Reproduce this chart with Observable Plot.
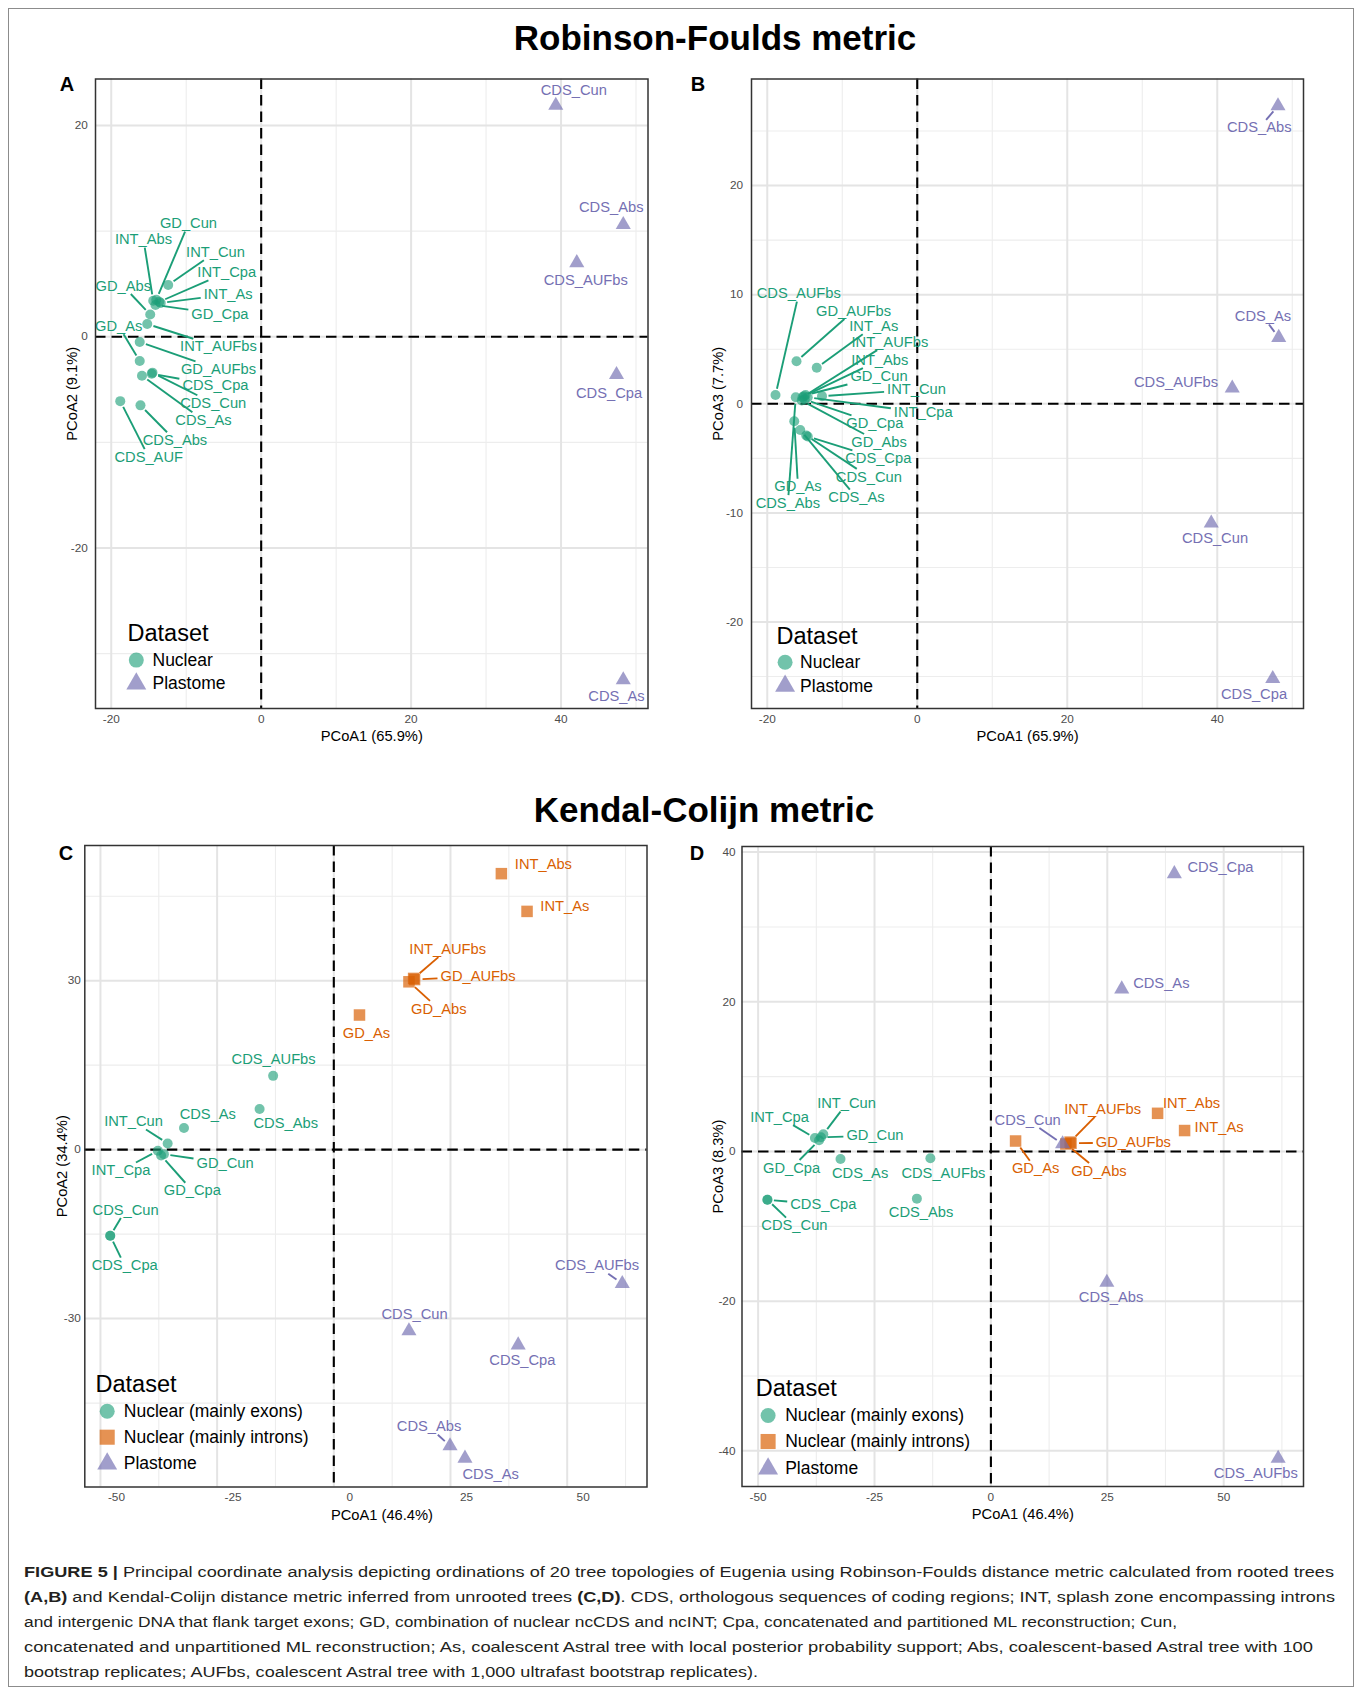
<!DOCTYPE html>
<html><head><meta charset="utf-8">
<script src="https://cdn.jsdelivr.net/npm/d3@7"></script>
<script src="https://cdn.jsdelivr.net/npm/@observablehq/plot@0.6"></script>
<style>
html,body{margin:0;padding:0;background:#fff;}
body{width:1360px;height:1690px;position:relative;overflow:hidden;font-family:"Liberation Sans",Arial,sans-serif;}
#border{position:absolute;left:8px;top:8px;width:1346px;height:1679px;border:1.5px solid #8c8c8c;box-sizing:border-box;}
.title{position:absolute;font-weight:bold;font-size:35px;color:#000;transform:translate(-50%,-50%);white-space:nowrap;}
.letter{position:absolute;font-weight:bold;font-size:20px;color:#000;transform:translate(-50%,-50%);}
.panel{position:absolute;}
.cap{position:absolute;left:24px;white-space:nowrap;font-size:15.5px;color:#231f20;transform-origin:0 50%;line-height:1;}
</style></head><body>
<div id="border"></div>
<div class="title" style="left:715px;top:38px">Robinson-Foulds metric</div>
<div class="title" style="left:704px;top:810px">Kendal-Colijn metric</div>
<div class="letter" style="left:67px;top:84px">A</div>
<div class="letter" style="left:698px;top:84px">B</div>
<div class="letter" style="left:66px;top:853px">C</div>
<div class="letter" style="left:697px;top:853px">D</div>
<div id="pA" class="panel" style="left:40px;top:70px"></div>
<div id="pB" class="panel" style="left:700px;top:70px"></div>
<div id="pC" class="panel" style="left:30px;top:835px"></div>
<div id="pD" class="panel" style="left:690px;top:835px"></div>
<div class="cap" data-w="1310" style="top:1572px"><b>FIGURE 5 |</b> Principal coordinate analysis depicting ordinations of 20 tree topologies of Eugenia using Robinson-Foulds distance metric calculated from rooted trees</div>
<div class="cap" data-w="1311" style="top:1597px"><b>(A,B)</b> and Kendal-Colijn distance metric inferred from unrooted trees <b>(C,D)</b>. CDS, orthologous sequences of coding regions; INT, splash zone encompassing introns</div>
<div class="cap" data-w="1153" style="top:1622px">and intergenic DNA that flank target exons; GD, combination of nuclear ncCDS and ncINT; Cpa, concatenated and partitioned ML reconstruction; Cun,</div>
<div class="cap" data-w="1289" style="top:1647px">concatenated and unpartitioned ML reconstruction; As, coalescent Astral tree with local posterior probability support; Abs, coalescent-based Astral tree with 100</div>
<div class="cap" data-w="734" style="top:1671.5px">bootstrap replicates; AUFbs, coalescent Astral tree with 1,000 ultrafast bootstrap replicates).</div>
<script>
// ---------------- DATA ----------------
// Panel A: Robinson-Foulds, PCoA1 vs PCoA2
const namesA = ["INT_Cun","GD_Cun","INT_Abs","INT_Cpa","INT_As","GD_Cpa","GD_Abs","INT_AUFbs","GD_AUFbs","GD_As","CDS_Cpa","CDS_Cun","CDS_As","CDS_Abs","CDS_AUF","CDS_Cun","CDS_Abs","CDS_AUFbs","CDS_Cpa","CDS_As"];
const groupsA = ["N","N","N","N","N","N","N","N","N","N","N","N","N","N","N","P","P","P","P","P"];
const xA = [-12.4,-14.0,-14.4,-13.6,-13.4,-14.1,-14.8,-15.2,-16.2,-16.2,-14.6,-14.5,-15.9,-16.1,-18.8,39.3,48.3,42.1,47.4,48.3];
const yA = [4.9,3.5,3.4,3.3,3.2,3.0,2.1,1.2,-0.5,-2.3,-3.5,-3.4,-3.7,-6.5,-6.1,21.9,10.6,7.0,-3.6,-32.5];
const labelXA = [-6.1,-9.7,-15.7,-4.6,-4.4,-5.5,-18.4,-5.7,-5.7,-19.0,-6.1,-6.4,-7.7,-11.5,-15.0,41.7,46.7,43.3,46.4,47.4];
const labelYA = [8.0,10.7,9.2,6.1,4.0,2.15,4.8,-0.95,-3.1,1.0,-4.6,-6.3,-7.9,-9.8,-11.4,23.3,12.3,5.3,-5.4,-34.0];

// Panel B: Robinson-Foulds, PCoA1 vs PCoA3
const namesB = ["CDS_AUFbs","GD_AUFbs","INT_As","INT_AUFbs","INT_Abs","GD_Cun","INT_Cun","INT_Cpa","GD_Cpa","GD_Abs","CDS_Cpa","CDS_Cun","CDS_As","GD_As","CDS_Abs","CDS_Abs","CDS_As","CDS_AUFbs","CDS_Cun","CDS_Cpa"];
const groupsB = ["N","N","N","N","N","N","N","N","N","N","N","N","N","N","N","P","P","P","P","P"];
const xB = [-18.9,-16.1,-13.4,-15.3,-15.1,-14.9,-12.7,-14.6,-15.0,-15.4,-14.6,-14.8,-15.6,-16.4,-16.2,48.1,48.2,42.0,39.2,47.4];
const yB = [0.8,3.9,3.3,0.6,0.7,0.8,0.7,0.6,0.4,0.3,-3.0,-2.9,-2.4,-1.6,0.6,27.3,6.07,1.43,-10.95,-25.2];
const labelXB = [-15.8,-8.5,-5.8,-3.65,-5.0,-5.1,-0.1,0.8,-5.65,-5.1,-5.2,-6.45,-8.1,-15.9,-17.25,45.6,46.1,34.5,39.7,44.9];
const labelYB = [10.1,8.5,7.1,5.65,4.0,2.5,1.3,-0.8,-1.8,-3.5,-5.0,-6.7,-8.6,-7.6,-9.1,25.3,8.0,1.96,-12.3,-26.6];

// Panel C: Kendal-Colijn, PCoA1 vs PCoA2
const namesC = ["CDS_AUFbs","CDS_Abs","CDS_As","INT_Cun","INT_Cpa","GD_Cun","GD_Cpa","CDS_Cun","CDS_Cpa","INT_Abs","INT_As","INT_AUFbs","GD_AUFbs","GD_Abs","GD_As","CDS_AUFbs","CDS_Cun","CDS_Cpa","CDS_Abs","CDS_As"];
const groupsC = ["E","E","E","E","E","E","E","E","E","I","I","I","I","I","I","P","P","P","P","P"];
const xC = [-13.0,-15.9,-32.1,-35.6,-37.7,-36.4,-37.0,-47.9,-47.9,35.9,41.4,17.1,17.3,16.1,5.5,61.8,16.1,39.5,24.9,28.1];
const yC = [13.1,7.2,3.85,1.1,-0.2,-0.8,-1.05,-15.3,-15.3,49.0,42.3,30.4,30.2,29.8,23.9,-23.8,-32.2,-34.7,-52.6,-54.8];
const labelXC = [-12.9,-10.3,-27.0,-42.9,-45.6,-23.3,-30.3,-44.6,-44.8,44.9,49.5,24.4,30.9,22.5,7.0,56.4,17.3,40.4,20.4,33.6];
const labelYC = [16.0,4.6,6.2,5.0,-3.7,-2.4,-7.3,-10.7,-20.6,50.6,43.2,35.6,30.8,25.0,20.7,-20.6,-29.2,-37.4,-49.2,-57.6];

// Panel D: Kendal-Colijn, PCoA1 vs PCoA3
const namesD = ["INT_Cun","INT_Cpa","GD_Cun","GD_Cpa","CDS_As","CDS_AUFbs","CDS_Abs","CDS_Cpa","CDS_Cun","INT_Abs","INT_As","INT_AUFbs","GD_AUFbs","GD_Abs","GD_As","CDS_Cpa","CDS_As","CDS_Cun","CDS_Abs","CDS_AUFbs"];
const groupsD = ["E","E","E","E","E","E","E","E","E","I","I","I","I","I","I","P","P","P","P","P"];
const xD = [-36.0,-37.8,-36.5,-36.9,-32.3,-13.0,-15.9,-48.0,-48.0,35.8,41.6,17.0,17.2,16.1,5.3,39.4,28.1,15.4,24.9,61.7];
const yD = [2.3,1.8,1.9,1.5,-1.0,-0.9,-6.3,-6.45,-6.45,5.1,2.8,1.25,1.1,1.0,1.4,37.1,21.7,1.0,-17.5,-41.0];
const labelXD = [-31.0,-45.4,-24.9,-42.8,-28.1,-10.2,-15.0,-36.0,-42.2,43.1,49.0,24.0,30.6,23.2,9.6,49.3,36.6,7.9,25.8,56.9];
const labelYD = [6.4,4.6,2.1,-2.2,-2.85,-2.85,-8.1,-7.1,-9.9,6.5,3.3,5.7,1.2,-2.6,-2.3,38.0,22.5,4.2,-19.5,-43.0];

// Legends and axes
const legendAB = ["Nuclear","Plastome"];
const legendGroupsAB = ["N","P"];
const legendCD = ["Nuclear (mainly exons)","Nuclear (mainly introns)","Plastome"];
const legendGroupsCD = ["E","I","P"];
const ticksRF_x = [-20,0,20,40];
const ticksA_y = [-20,0,20];
const ticksB_y = [-20,-10,0,10,20];
const ticksKC_x = [-50,-25,0,25,50];
const ticksC_y = [-30,0,30];
const ticksD_y = [-40,-20,0,20,40];

// ---------------- STYLE ----------------
const GREEN = "#1b9e77", ORANGE = "#d95f02", PURPLE = "#7570b3";
const STYLE = {
  N: {color: GREEN, symbol: "circle", r: 5, op: 0.62, lr: 7.5},
  E: {color: GREEN, symbol: "circle", r: 5, op: 0.62, lr: 7.5},
  I: {color: ORANGE, symbol: "square", r: 6.5, op: 0.68, lr: 8.5},
  P: {color: PURPLE, symbol: "triangle", r: 5.6, op: 0.68, lr: 7.4}
};
const LABEL_FS = 14.7;
const FONT = "'Liberation Sans', Arial, sans-serif";
const ctx = document.createElement("canvas").getContext("2d");
ctx.font = LABEL_FS + "px 'Liberation Sans'";

function minor(ticks, dom) {
  const step = ticks[1] - ticks[0];
  const out = [];
  for (let v = ticks[0] - step / 2; v <= dom[1]; v += step) if (v >= dom[0]) out.push(v);
  for (let v = ticks[0] - step / 2 - step; v >= dom[0]; v -= step) out.push(v);
  return out;
}

function buildPanel(cfg) {
  const pts = cfg.names.map((n, i) => ({name: n, group: cfg.groups[i], x: cfg.xs[i], y: cfg.ys[i], lx: cfg.lxs[i], ly: cfg.lys[i]}));
  const kx = (cfg.width - cfg.ml - cfg.mr) / (cfg.xd[1] - cfg.xd[0]);
  const ky = (cfg.height - cfg.mt - cfg.mb) / (cfg.yd[1] - cfg.yd[0]);
  const segs = [];
  for (const p of pts) {
    const w = ctx.measureText(p.name).width;
    const dxp = (p.x - p.lx) * kx, dyp = (p.y - p.ly) * ky;
    const dist = Math.hypot(dxp, dyp);
    if (!dist) continue;
    const hw = w / 2 + 3, hh = 8;
    const t = Math.min(dxp ? hw / Math.abs(dxp) : Infinity, dyp ? hh / Math.abs(dyp) : Infinity);
    const pad = STYLE[p.group].r + 1.5;
    const rem = (1 - t) * dist - pad;
    if (t < 1 && rem > 8) {
      const f = 1 - pad / dist;
      segs.push({group: p.group, x1: p.lx + t * (p.x - p.lx), y1: p.ly + t * (p.y - p.ly), x2: p.lx + f * (p.x - p.lx), y2: p.ly + f * (p.y - p.ly)});
    }
  }
  const groupsUsed = [...new Set(cfg.groups)];
  const marks = [
    Plot.gridX(minor(cfg.xt, cfg.xd), {stroke: "#ededed", strokeWidth: 1.1, strokeOpacity: 1}),
    Plot.gridY(minor(cfg.yt, cfg.yd), {stroke: "#ededed", strokeWidth: 1.1, strokeOpacity: 1}),
    Plot.gridX(cfg.xt, {stroke: "#e4e4e4", strokeWidth: 2, strokeOpacity: 1}),
    Plot.gridY(cfg.yt, {stroke: "#e4e4e4", strokeWidth: 2, strokeOpacity: 1}),
    Plot.ruleX([0], {stroke: "#000", strokeWidth: 2.1, strokeDasharray: "10.5,6"}),
    Plot.ruleY([0], {stroke: "#000", strokeWidth: 2.1, strokeDasharray: "10.5,6"})
  ];
  for (const g of groupsUsed) {
    const s = STYLE[g];
    marks.push(Plot.dot(pts.filter(d => d.group === g), {x: "x", y: "y", symbol: s.symbol, r: s.r, fill: s.color, fillOpacity: s.op, stroke: "none"}));
  }
  for (const g of groupsUsed) {
    const s = STYLE[g];
    marks.push(Plot.link(segs.filter(d => d.group === g), {x1: "x1", y1: "y1", x2: "x2", y2: "y2", stroke: s.color, strokeWidth: 1.9}));
  }
  for (const g of groupsUsed) {
    const s = STYLE[g];
    marks.push(Plot.text(pts.filter(d => d.group === g), {x: "lx", y: "ly", text: "name", fill: s.color, fontSize: LABEL_FS, lineAnchor: "middle"}));
  }
  // legend
  const L = cfg.legend;
  marks.push(Plot.text(["Dataset"], {frameAnchor: "bottom-left", dx: L.tdx, dy: L.tdy, text: d => d, textAnchor: "start", lineAnchor: "middle", fontSize: 23.5, fill: "#000"}));
  L.labels.forEach((lab, i) => {
    const s = STYLE[L.groups[i]];
    marks.push(Plot.dot([lab], {frameAnchor: "bottom-left", dx: L.sdx, dy: L.dys[i], symbol: s.symbol, r: s.lr, fill: s.color, fillOpacity: s.op, stroke: "none"}));
    marks.push(Plot.text([lab], {frameAnchor: "bottom-left", dx: L.ldx, dy: L.dys[i], text: d => d, textAnchor: "start", lineAnchor: "middle", fontSize: 17.5, fill: "#000"}));
  });
  marks.push(
    Plot.frame({stroke: "#333", strokeWidth: 1.5}),
    Plot.axisX(cfg.xt, {tickSize: 0, tickPadding: 6, fontSize: 11.8, color: "#4d4d4d", label: null, tickFormat: d => String(d), dx: cfg.xdx || 0}),
    Plot.axisY(cfg.yt, {tickSize: 0, tickPadding: cfg.ytp, fontSize: 11.8, color: "#4d4d4d", label: null, tickFormat: d => String(d)}),
    Plot.text([cfg.xlab], {frameAnchor: "bottom", dy: 28, dx: cfg.xdx || 0, text: d => d, textAnchor: "middle", lineAnchor: "middle", fontSize: LABEL_FS, fill: "#000"}),
    Plot.text([cfg.ylab], {frameAnchor: "left", dx: -cfg.yto, rotate: -90, text: d => d, textAnchor: "middle", lineAnchor: "middle", fontSize: LABEL_FS, fill: "#000"})
  );
  const chart = Plot.plot({
    width: cfg.width, height: cfg.height,
    marginLeft: cfg.ml, marginRight: cfg.mr, marginTop: cfg.mt, marginBottom: cfg.mb,
    x: {domain: cfg.xd}, y: {domain: cfg.yd},
    style: {fontFamily: FONT, background: "none", overflow: "visible"},
    marks
  });
  document.getElementById(cfg.el).appendChild(chart);
}

buildPanel({el: "pA", width: 640, height: 690, ml: 55, mr: 32.5, mt: 8.5, mb: 52,
  xd: [-22.1, 51.6], yd: [-35.2, 24.4], xt: ticksRF_x, yt: ticksA_y, ytp: 7.7, yto: 23,
  xlab: "PCoA1 (65.9%)", ylab: "PCoA2 (9.1%)",
  names: namesA, groups: groupsA, xs: xA, ys: yA, lxs: labelXA, lys: labelYA,
  legend: {labels: legendAB, groups: legendGroupsAB, tdx: 32, tdy: -75.4, sdx: 40.8, ldx: 57, dys: [-48.4, -24.7]}});

buildPanel({el: "pB", width: 640, height: 690, ml: 51, mr: 37, mt: 8.5, mb: 52,
  xd: [-22.1, 51.5], yd: [-27.93, 29.77], xt: ticksRF_x, yt: ticksB_y, ytp: 8.5, yto: 33,
  xlab: "PCoA1 (65.9%)", ylab: "PCoA3 (7.7%)",
  names: namesB, groups: groupsB, xs: xB, ys: yB, lxs: labelXB, lys: labelYB,
  legend: {labels: legendAB, groups: legendGroupsAB, tdx: 25, tdy: -72.2, sdx: 33.6, ldx: 48.6, dys: [-46.3, -22.6]}});

buildPanel({el: "pC", width: 640, height: 700, ml: 54.3, mr: 23.5, mt: 10, mb: 48.5,
  xd: [-53.35, 67.1], yd: [-59.9, 54.0], xt: ticksKC_x, yt: ticksC_y, ytp: 4, yto: 23, xdx: 16,
  xlab: "PCoA1 (46.4%)", ylab: "PCoA2 (34.4%)",
  names: namesC, groups: groupsC, xs: xC, ys: yC, lxs: labelXC, lys: labelYC,
  legend: {labels: legendCD, groups: legendGroupsCD, tdx: 10.7, tdy: -102.5, sdx: 22.4, ldx: 39, dys: [-75.8, -49.8, -23.2]}});

buildPanel({el: "pD", width: 640, height: 700, ml: 51.5, mr: 27, mt: 11, mb: 49,
  xd: [-53.46, 67.14], yd: [-44.76, 40.75], xt: ticksKC_x, yt: ticksD_y, ytp: 6.5, yto: 24,
  xlab: "PCoA1 (46.4%)", ylab: "PCoA3 (8.3%)",
  names: namesD, groups: groupsD, xs: xD, ys: yD, lxs: labelXD, lys: labelYD,
  legend: {labels: legendCD, groups: legendGroupsCD, tdx: 13.8, tdy: -97.7, sdx: 26.1, ldx: 43.2, dys: [-71, -45, -17.7]}});

// fit caption lines to the reference line lengths
document.querySelectorAll(".cap").forEach(el => {
  const w = el.getBoundingClientRect().width;
  const target = +el.dataset.w;
  el.style.transform = "translateY(-50%) scaleX(" + (target / w) + ")";
});
</script>
</body></html>
